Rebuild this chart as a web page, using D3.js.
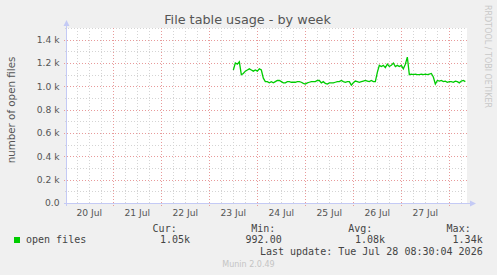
<!DOCTYPE html>
<html>
<head>
<meta charset="utf-8">
<script src="https://cdn.jsdelivr.net/npm/d3@7"></script>
<style>
  html, body { margin: 0; padding: 0; background: #f0f0f0; }
  svg { display: block; }
  text { font-family: "DejaVu Sans", sans-serif; }
  .mono { font-family: "DejaVu Sans Mono", monospace; }
</style>
</head>
<body>
<svg id="chart" width="497" height="275"></svg>
<script>
// ── data (hourly averages, open files) ─────────────────────────
const seriesName = "open files";
const seriesStart = "2026-07-23T12:00:00";
const stepHours = 1;
const fileValues = [
  1140, 1200, 1190, 1210, 1100, 1110, 1130, 1140, 1150, 1140,
  1130, 1140, 1130, 1150, 1140, 1070, 1040, 1040, 1030, 1040,
  1030, 1040, 1050, 1050, 1040, 1030, 1030, 1040, 1040, 1035,
  1035, 1035, 1040, 1040, 1035, 1025, 1020, 1030, 1035, 1040,
  1040, 1040, 1050, 1050, 1030, 1040, 1025, 1020, 1030, 1030,
  1030, 1035, 1040, 1040, 1050, 1040, 1035, 1040, 1040, 1010,
  1030, 1045, 1040, 1035, 1040, 1045, 1050, 1045, 1040, 1050,
  1040, 1040, 1120, 1180, 1170, 1180, 1160, 1190, 1170, 1180,
  1200, 1170, 1180, 1170, 1180, 1150, 1190, 1250, 1100, 1105,
  1100, 1105, 1100, 1100, 1105, 1100, 1105, 1100, 1105, 1110,
  1080, 1020, 1050, 1045, 1050, 1040, 1045, 1035, 1040, 1040,
  1035, 1045, 1040, 1030, 1045, 1050, 1040
];
const dayTicks = ["2026-07-20", "2026-07-21", "2026-07-22", "2026-07-23",
                  "2026-07-24", "2026-07-25", "2026-07-26", "2026-07-27"];
const yTicks = [0, 200, 400, 600, 800, 1000, 1200, 1400];
const legendHeads = ["Cur:", "Min:", "Avg:", "Max:"];
const legendVals = ["1.05k", "992.00", "1.08k", "1.34k"];
const lastUpdate = "Last update: Tue Jul 28 08:30:04 2026";

// ── layout ─────────────────────────────────────────────────────
const L = 67, R = 467, T = 28, B = 203;
const svg = d3.select("#chart");
const parse = d3.timeParse("%Y-%m-%d");
const parseT = d3.timeParse("%Y-%m-%dT%H:%M:%S");

const x = d3.scaleTime()
  .domain([parseT("2026-07-20T00:50:00"), parseT("2026-07-28T08:50:00")])
  .range([L, R]);
const y = d3.scaleLinear().domain([0, 1500]).range([B, T]);

const t0 = parseT(seriesStart);
const data = fileValues.map((v, i) => ({ t: d3.timeHour.offset(t0, i * stepHours), v }));

svg.append("rect").attr("width", 497).attr("height", 275).attr("fill", "#f0f0f0");
svg.append("rect").attr("x", L).attr("y", T).attr("width", R - L).attr("height", B - T).attr("fill", "#fff");

const grid = svg.append("g").attr("shape-rendering", "crispEdges");
const minorCol = "#d4d4d4", majorCol = "#e89a9a";

// minor vertical grid every 6h
d3.timeHour.every(6).range(x.domain()[0], x.domain()[1]).forEach(d => {
  if (d.getHours() === 0) return;
  const px = Math.round(x(d)) + 0.5;
  grid.append("line").attr("x1", px).attr("x2", px).attr("y1", T).attr("y2", B + 2)
    .attr("stroke", minorCol).attr("stroke-dasharray", "1,2");
});
// minor horizontal grid every 100
d3.range(100, 1501, 200).forEach(v => {
  const py = Math.round(y(v)) + 0.5;
  grid.append("line").attr("x1", L - 2).attr("x2", R).attr("y1", py).attr("y2", py)
    .attr("stroke", minorCol).attr("stroke-dasharray", "1,2");
});
// major vertical grid at midnight
d3.timeDay.range(x.domain()[0], x.domain()[1]).forEach(d => {
  const px = Math.round(x(d)) + 0.5;
  grid.append("line").attr("x1", px).attr("x2", px).attr("y1", T).attr("y2", B + 3)
    .attr("stroke", majorCol).attr("stroke-dasharray", "1,2");
});
// major horizontal grid
yTicks.filter(v => v > 0).forEach(v => {
  const py = Math.round(y(v)) + 0.5;
  grid.append("line").attr("x1", L - 3).attr("x2", R).attr("y1", py).attr("y2", py)
    .attr("stroke", majorCol).attr("stroke-dasharray", "1,2");
});

// axes lines + arrows
const axisCol = "#c4caf5";
grid.append("line").attr("x1", L - 0.5).attr("x2", L - 0.5).attr("y1", T - 4).attr("y2", B + 3).attr("stroke", axisCol);
grid.append("line").attr("x1", L - 3).attr("x2", R + 4).attr("y1", B + 0.5).attr("y2", B + 0.5).attr("stroke", axisCol);
svg.append("path").attr("d", `M${L - 3.5},${T - 2} L${L + 2.5},${T - 2} L${L - 0.5},${T - 8} Z`).attr("fill", axisCol);
svg.append("path").attr("d", `M${R + 3},${B - 2.5} L${R + 3},${B + 3.5} L${R + 9},${B + 0.5} Z`).attr("fill", axisCol);

// tick labels
svg.append("g").selectAll("text").data(yTicks).join("text")
  .attr("x", 59.5).attr("y", d => y(d) + 3.3)
  .attr("text-anchor", "end").attr("font-size", 9.2).attr("fill", "#555")
  .text(d => d === 0 ? "0.0" : (d / 1000).toFixed(1) + " k");

svg.append("g").selectAll("text").data(dayTicks).join("text")
  .attr("x", d => x(d3.timeHour.offset(parse(d), 12)))
  .attr("y", 216).attr("text-anchor", "middle").attr("font-size", 9.2).attr("fill", "#555")
  .text(d => d3.timeFormat("%d %b")(parse(d)));

// series line
svg.append("path").datum(data)
  .attr("fill", "none").attr("stroke", "#00cc00").attr("stroke-width", 1.3)
  .attr("d", d3.line().x(d => x(d.t)).y(d => y(d.v)));

// titles
svg.append("text").attr("x", 247.5).attr("y", 23.5).attr("text-anchor", "middle")
  .attr("font-size", 12.8).attr("fill", "#555").text("File table usage - by week");
svg.append("text").attr("transform", "translate(15,110) rotate(-90)").attr("text-anchor", "middle")
  .attr("font-size", 10.3).attr("fill", "#555").text("number of open files");
svg.append("text").attr("transform", "translate(485,5) rotate(90)")
  .attr("font-size", 8).attr("fill", "#c8c8c8").text("RRDTOOL / TOBI OETIKER");

// legend
svg.append("rect").attr("x", 14).attr("y", 237).attr("width", 6).attr("height", 6).attr("fill", "#00cc00");
svg.append("text").attr("class", "mono").attr("x", 26).attr("y", 243).attr("font-size", 10)
  .attr("fill", "#444").text(seriesName);
const headX = [176.7, 275.3, 372.3, 470.7];
const valX = [190, 281.7, 385, 482.7];
svg.append("g").selectAll("text").data(legendHeads).join("text").attr("class", "mono")
  .attr("x", (d, i) => headX[i]).attr("y", 231.5).attr("text-anchor", "end")
  .attr("font-size", 10).attr("fill", "#444").text(d => d);
svg.append("g").selectAll("text").data(legendVals).join("text").attr("class", "mono")
  .attr("x", (d, i) => valX[i]).attr("y", 243).attr("text-anchor", "end")
  .attr("font-size", 10).attr("fill", "#444").text(d => d);
svg.append("text").attr("class", "mono").attr("x", 482.7).attr("y", 254.5).attr("text-anchor", "end")
  .attr("font-size", 10).attr("fill", "#444").text(lastUpdate);
svg.append("text").attr("x", 248.5).attr("y", 267).attr("text-anchor", "middle")
  .attr("font-size", 8).attr("fill", "#c4c4c4").text("Munin 2.0.49");
</script>
</body>
</html>
